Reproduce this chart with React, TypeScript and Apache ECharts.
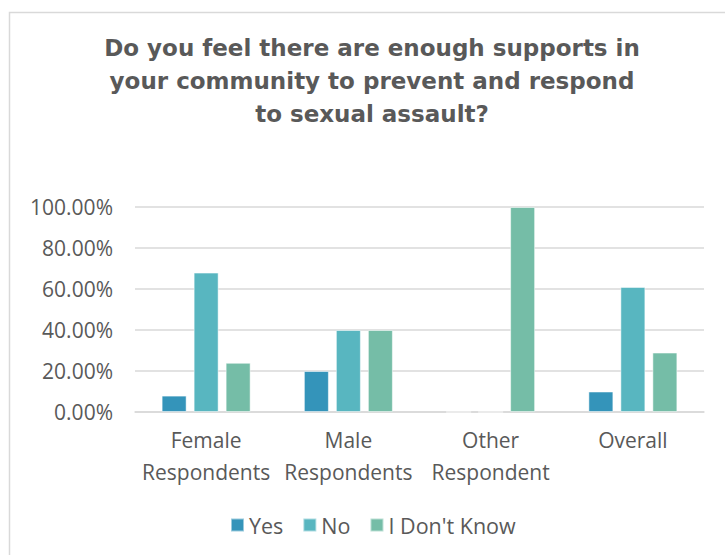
import React, { useEffect, useRef } from "react";
import * as echarts from "echarts";

const categories = ["Female\nRespondents", "Male\nRespondents", "Other\nRespondent", "Overall"];
const yesValues = [8, 20, 0, 10];
const noValues = [68, 40, 0, 61];
const dontKnowValues = [24, 40, 100, 29];
const seriesNames = ["Yes", "No", "I Don't Know"];
const titleText = "Do you feel there are enough supports in\nyour community to prevent and respond\nto sexual assault?";

const FONT = "'Open Sans', sans-serif";
const TITLE_FONT = "'DejaVu Sans', sans-serif";
const TEXT = "#595959";
const GRID = "#d9d9d9";

export default function App() {
  const ref = useRef<HTMLDivElement>(null);
  useEffect(() => {
    if (!ref.current) return;
    const chart = echarts.init(ref.current, undefined, { renderer: "svg" });
    const colors = ["#3494BA", "#58B6C0", "#75BDA7"];
    const datasets = [yesValues, noValues, dontKnowValues];
    chart.setOption({
      animation: false,
      backgroundColor: "#ffffff",
      textStyle: { fontFamily: FONT },
      graphic: [
        {
          type: "rect",
          shape: { x: 9.5, y: 12.5, width: 800, height: 600 },
          style: { fill: "none", stroke: GRID, lineWidth: 1.5 },
          silent: true,
        },
      ],
      title: {
        text: titleText,
        left: 367,
        top: 26,
        textAlign: "center",
        textStyle: {
          fontFamily: TITLE_FONT,
          fontSize: 23,
          fontWeight: "bold",
          lineHeight: 33,
          color: TEXT,
        },
      },
      legend: {
        data: seriesNames,
        left: 225,
        top: 509,
        itemWidth: 13,
        itemHeight: 13,
        itemGap: 19,
        icon: "rect",
        textStyle: { fontFamily: FONT, fontSize: 21.5, color: TEXT },
      },
      grid: { left: 135, right: 21, top: 207, bottom: 143, containLabel: false },
      xAxis: {
        type: "category",
        data: categories,
        axisLine: { lineStyle: { color: GRID, width: 1.5 } },
        axisTick: { show: false },
        axisLabel: {
          fontFamily: FONT,
          fontSize: 21,
          color: TEXT,
          lineHeight: 32,
          margin: 12,
          interval: 0,
        },
      },
      yAxis: {
        type: "value",
        min: 0,
        max: 100,
        interval: 20,
        axisLine: { show: false },
        axisTick: { show: false },
        splitLine: { lineStyle: { color: GRID, width: 1.5 } },
        axisLabel: {
          fontFamily: FONT,
          fontSize: 21,
          color: TEXT,
          margin: 22,
          formatter: (v: number) => v.toFixed(2) + "%",
        },
      },
      series: seriesNames.map((name, i) => ({
        name,
        type: "bar",
        data: datasets[i],
        barWidth: 25,
        barGap: "28%",
        itemStyle: { color: colors[i], borderColor: "rgba(255,255,255,0.5)", borderWidth: 1 },
      })),
    });
    return () => chart.dispose();
  }, []);
  return (
    <div
      ref={ref}
      style={{ position: "absolute", left: 0, top: 0, width: 725, height: 555 }}
    />
  );
}
